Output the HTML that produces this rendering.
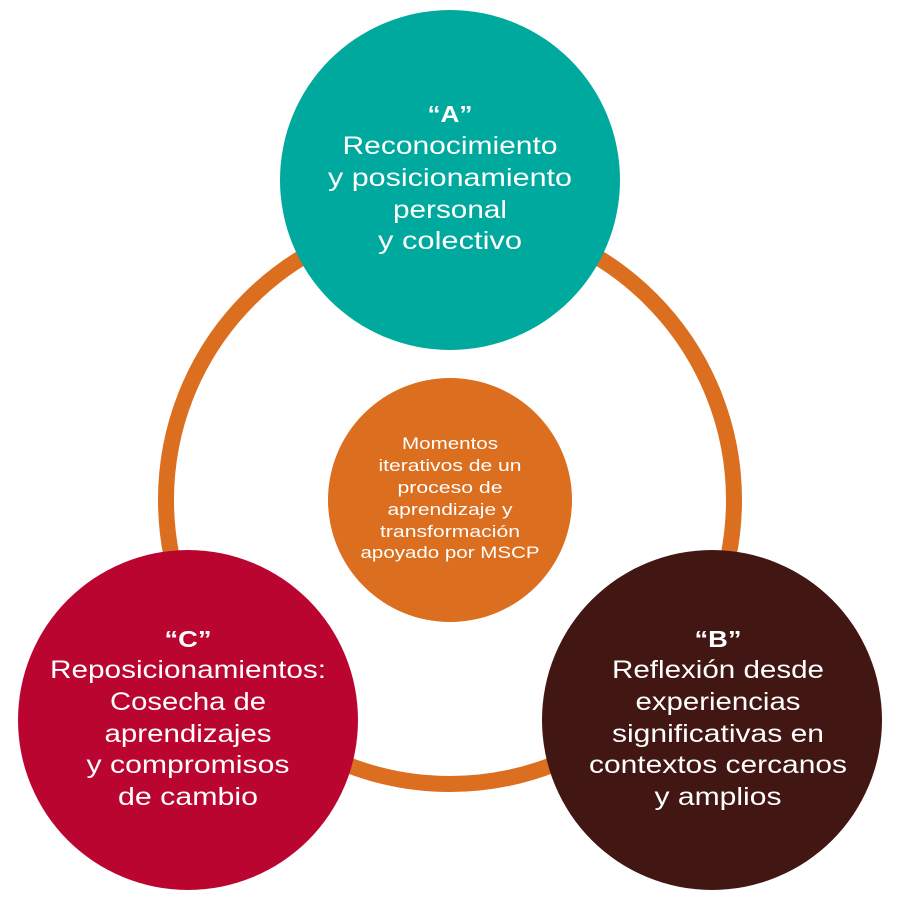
<!DOCTYPE html>
<html>
<head>
<meta charset="utf-8">
<style>
  html, body { margin: 0; padding: 0; background: #ffffff; }
  svg { display: block; }
  text { font-family: "Liberation Sans", "DejaVu Sans", sans-serif; fill: #ffffff; }
</style>
</head>
<body>
<svg width="900" height="900" viewBox="0 0 900 900" xmlns="http://www.w3.org/2000/svg">
  <rect width="900" height="900" fill="#ffffff"/>
  <!-- ring -->
  <circle cx="450" cy="500" r="284" fill="none" stroke="#DC6E1F" stroke-width="16"/>
  <!-- center -->
  <circle cx="450" cy="500" r="122" fill="#DC6E1F"/>
  <!-- A -->
  <circle cx="450" cy="180" r="170" fill="#00A99D"/>
  <!-- C -->
  <circle cx="188" cy="720" r="170" fill="#BA0530"/>
  <!-- B -->
  <circle cx="712" cy="720" r="170" fill="#421713"/>

  <!-- A text -->
  <g text-anchor="middle">
    <text x="450" y="122" font-size="23" font-weight="bold" textLength="45" lengthAdjust="spacingAndGlyphs">“A”</text>
    <text x="450" y="154" font-size="25" textLength="215" lengthAdjust="spacingAndGlyphs">Reconocimiento</text>
    <text x="450" y="186" font-size="25" textLength="244" lengthAdjust="spacingAndGlyphs">y posicionamiento</text>
    <text x="450" y="218" font-size="25" textLength="114" lengthAdjust="spacingAndGlyphs">personal</text>
    <text x="450" y="249" font-size="25" textLength="144" lengthAdjust="spacingAndGlyphs">y colectivo</text>
  </g>

  <!-- center text -->
  <g text-anchor="middle">
    <text x="450" y="449" font-size="16.5" textLength="96" lengthAdjust="spacingAndGlyphs">Momentos</text>
    <text x="450" y="471" font-size="16.5" textLength="143" lengthAdjust="spacingAndGlyphs">iterativos de un</text>
    <text x="450" y="493" font-size="16.5" textLength="105" lengthAdjust="spacingAndGlyphs">proceso de</text>
    <text x="450" y="515" font-size="16.5" textLength="125" lengthAdjust="spacingAndGlyphs">aprendizaje y</text>
    <text x="450" y="537" font-size="16.5" textLength="140" lengthAdjust="spacingAndGlyphs">transformación</text>
    <text x="450" y="558" font-size="16.5" textLength="179" lengthAdjust="spacingAndGlyphs">apoyado por MSCP</text>
  </g>

  <!-- C text -->
  <g text-anchor="middle">
    <text x="188" y="647" font-size="23" font-weight="bold" textLength="47" lengthAdjust="spacingAndGlyphs">“C”</text>
    <text x="188" y="678" font-size="25" textLength="276" lengthAdjust="spacingAndGlyphs">Reposicionamientos:</text>
    <text x="188" y="710" font-size="25" textLength="156" lengthAdjust="spacingAndGlyphs">Cosecha de</text>
    <text x="188" y="742" font-size="25" textLength="167" lengthAdjust="spacingAndGlyphs">aprendizajes</text>
    <text x="188" y="773" font-size="25" textLength="203" lengthAdjust="spacingAndGlyphs">y compromisos</text>
    <text x="188" y="805" font-size="25" textLength="140" lengthAdjust="spacingAndGlyphs">de cambio</text>
  </g>

  <!-- B text -->
  <g text-anchor="middle">
    <text x="718" y="647" font-size="23" font-weight="bold" textLength="47" lengthAdjust="spacingAndGlyphs">“B”</text>
    <text x="718" y="678" font-size="25" textLength="212" lengthAdjust="spacingAndGlyphs">Reflexión desde</text>
    <text x="718" y="710" font-size="25" textLength="165" lengthAdjust="spacingAndGlyphs">experiencias</text>
    <text x="718" y="742" font-size="25" textLength="212" lengthAdjust="spacingAndGlyphs">significativas en</text>
    <text x="718" y="773" font-size="25" textLength="258" lengthAdjust="spacingAndGlyphs">contextos cercanos</text>
    <text x="718" y="805" font-size="25" textLength="127" lengthAdjust="spacingAndGlyphs">y amplios</text>
  </g>
</svg>
</body>
</html>
